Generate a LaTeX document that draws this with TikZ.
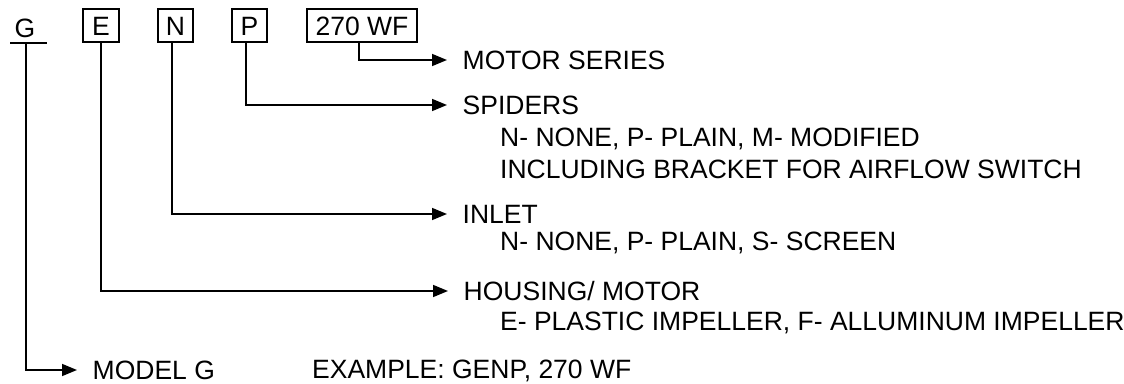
\documentclass[tikz,border=0pt]{standalone}
\usepackage{fontspec}
\setmainfont{Liberation Sans}
\usetikzlibrary{arrows.meta}
\begin{document}
\begin{tikzpicture}[x=1pt,y=-1pt,
  font=\fontsize{26.5}{30}\selectfont,
  codebox/.style={draw, line width=1.8pt, minimum height=33pt, inner sep=0pt, text height=19pt, text depth=0pt},
  lbl/.style={anchor=west, inner ysep=0pt, inner xsep=15.5pt, text height=19pt, text depth=0pt},
  sub/.style={anchor=base west, inner sep=0pt},
  conn/.style={line width=1.6pt, -{Triangle[length=15pt,width=12pt]}}]
\useasboundingbox (0,0) rectangle (1124,383);
% code letters
\node[inner xsep=0pt, inner ysep=6pt, text height=19pt, text depth=0pt] (bG) at (25,27.5) {G};
\node[codebox, minimum width=36pt] (bE) at (101,25.5) {E};
\node[codebox, minimum width=35pt] (bN) at (175.5,25.5) {N};
\node[codebox, minimum width=35pt] (bP) at (249.5,25.5) {P};
\node[codebox, minimum width=110pt] (bS) at (362,25.5) {270 WF};
\draw[line width=1.8pt] ([xshift=-15pt]bG.south) -- ([xshift=22pt]bG.south);
% labels
\node[lbl] (lS) at (447,60) {MOTOR SERIES};
\node[lbl] (lP) at (447,105) {SPIDERS};
\node[sub] (sP1) at (500,146) {N- NONE, P- PLAIN, M- MODIFIED};
\node[sub] (sP2) at (500,178) {INCLUDING BRACKET FOR AIRFLOW SWITCH};
\node[lbl] (lN) at (447,214) {INLET};
\node[sub] (sN1) at (500,250) {N- NONE, P- PLAIN, S- SCREEN};
\node[lbl] (lE) at (448,291) {HOUSING/ MOTOR};
\node[sub] (sE1) at (500,330) {E- PLASTIC IMPELLER, F- ALLUMINUM IMPELLER};
\node[lbl] (lG) at (77,370) {MODEL G};
\node[sub] (ex) at (312,378.5) {EXAMPLE: GENP, 270 WF};
% connectors
\draw[conn] ([xshift=-3pt]bS.south) |- (lS.west);
\draw[conn] ([xshift=-3.5pt]bP.south) |- (lP.west);
\draw[conn] ([xshift=-3.5pt]bN.south) |- (lN.west);
\draw[conn] (bE.south) |- (lE.west);
\draw[conn] ([xshift=1pt]bG.south) |- (lG.west);
\end{tikzpicture}
\end{document}
